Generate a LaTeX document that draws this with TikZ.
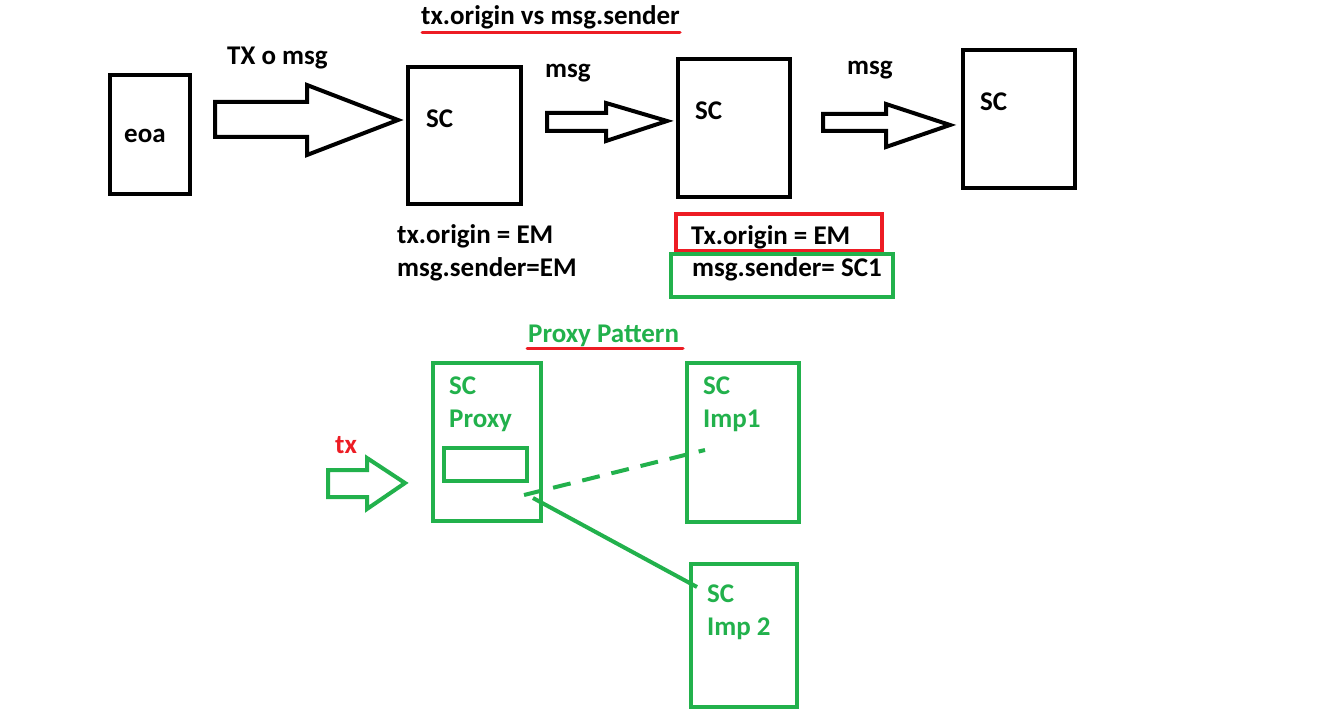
\documentclass[tikz,border=0pt]{standalone}
\usepackage{fontspec}
\setmainfont{Carlito}
\definecolor{paintgreen}{RGB}{34,177,76}
\definecolor{paintred}{RGB}{237,28,36}

\begin{document}
\begin{tikzpicture}[x=1pt, y=-1pt,
  font=\fontsize{27}{33}\selectfont\bfseries,
  box/.style={draw, line width=4pt, inner sep=0pt},
  gbox/.style={box, draw=paintgreen},
  rbox/.style={box, draw=paintred},
  lbl/.style={inner sep=0pt, anchor=base west, align=left},
  glbl/.style={lbl, text=paintgreen},
  blockarrow/.style={line width=4pt, line join=miter}]
\fill[white] (0,0) rectangle (1318,719);
\useasboundingbox (0,0) rectangle (1318,719);

% tx.origin vs msg.sender
\node[lbl] (title) at (421,25) {tx.origin vs msg.sender};
\draw[paintred, line width=3pt, line cap=round] (422,33) -- (680,33);

\node[box, minimum width=80, minimum height=119] (eoa) at (150,134.5) {};
\node[lbl] (eoatxt) at (124,143) {eoa};
\node[box, minimum width=113, minimum height=137] (sc1) at (464.5,135.5) {};
\node[lbl] (sc1txt) at (426,128) {SC};
\node[box, minimum width=112, minimum height=138] (sc2) at (734,128) {};
\node[lbl] (sc2txt) at (695,120) {SC};
\node[box, minimum width=112, minimum height=138] (sc3) at (1019,119) {};
\node[lbl] (sc3txt) at (980,111) {SC};

\node[lbl] (txmsg) at (227,65) {TX o msg};
\node[lbl] (msga) at (545,78) {msg};
\node[lbl] (msgb) at (847,75) {msg};

\draw[blockarrow] (215,102) -- (307,102) -- (307,85) -- (398,120)
  -- (307,155) -- (307,137) -- (215,137) -- cycle;
\draw[blockarrow] (547,113) -- (606,113) -- (606,103) -- (667,121)
  -- (606,141) -- (606,131) -- (547,131) -- cycle;
\draw[blockarrow] (823,114) -- (886,114) -- (886,104) -- (950,125)
  -- (886,147) -- (886,131) -- (823,131) -- cycle;

\node[lbl] (sc1vals) at (397,277) {tx.origin = EM\\msg.sender=EM};
\node[rbox, minimum width=206, minimum height=37] (origbox) at (778.5,232.5) {};
\node[lbl] (origtxt) at (691,245) {Tx.origin = EM};
\node[gbox, minimum width=222, minimum height=43] (sendbox) at (781.5,276) {};
\node[lbl] (sendtxt) at (692,277) {msg.sender= SC1};

% Proxy Pattern
\node[glbl] (ptitle) at (528,343) {Proxy Pattern};
\draw[paintred, line width=3pt, line cap=round] (527,349) -- (683,349);

\node[lbl, text=paintred] (txtxt) at (335,453) {tx};
\draw[blockarrow, draw=paintgreen] (328,470) -- (367,470) -- (367,458) -- (405,483)
  -- (367,509) -- (367,497) -- (328,497) -- cycle;

\node[gbox, minimum width=108, minimum height=158] (proxy) at (487,442) {};
\node[glbl] (proxytxt) at (449,428) {SC\\Proxy};
\node[gbox, minimum width=83, minimum height=33] (slot) at (485.5,464.5) {};
\node[gbox, minimum width=112, minimum height=159] (imp1) at (743,442.5) {};
\node[glbl] (imp1txt) at (703,428) {SC\\Imp1};
\node[gbox, minimum width=106, minimum height=143] (imp2) at (744,635.5) {};
\node[glbl] (imp2txt) at (707,635) {SC\\Imp 2};

\coordinate (dashfrom) at (524,495);
\coordinate (dashto) at (705,450);
\coordinate (linefrom) at (533,498);
\coordinate (lineto) at (697,587);
\draw[paintgreen, line width=4pt, dash pattern=on 18pt off 12pt] (dashfrom) -- (dashto);
\draw[paintgreen, line width=4pt] (linefrom) -- (lineto);
\end{tikzpicture}
\end{document}
